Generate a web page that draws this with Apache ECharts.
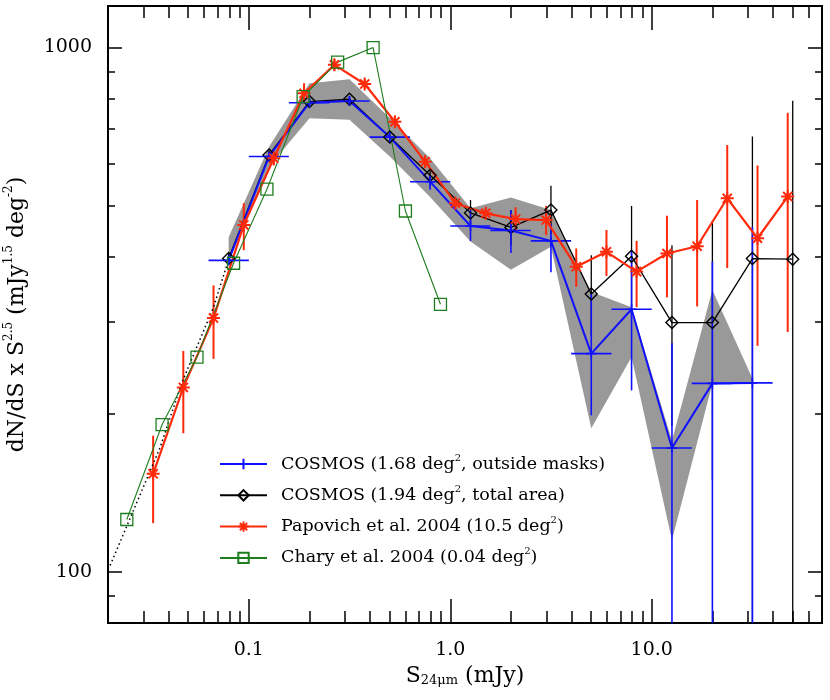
<!DOCTYPE html>
<html>
<head>
<meta charset="utf-8">
<script src="https://cdn.jsdelivr.net/npm/echarts@6/dist/echarts.min.js"></script>
<style>
  html, body { margin: 0; padding: 0; background: #fff; }
  #chart { width: 830px; height: 700px; }
</style>
</head>
<body>
<div id="chart"></div>
<script>
// ---- data ----
// COSMOS 1.68 deg2, outside masks (blue, with bin widths)
const blueX   = [0.0794, 0.126, 0.200, 0.316, 0.501, 0.794, 1.26, 2.00, 3.16, 5.01, 7.94, 12.6, 20.0, 31.6];
const blueY   = [393, 620, 785, 791, 675, 555, 457, 448, 428, 261, 317, 172.5, 229, 229.5];
const blueHi  = [400, 632, 800, 806, 688, 572, 490, 490, 461, 340, 411, 273, 391, 455];
const blueLo  = [386, 608, 770, 776, 662, 536, 428, 406, 373, 199, 222, 40, 40, 40];
const blueXlo = [0.0631, 0.100, 0.158, 0.251, 0.398, 0.631, 1.00, 1.58, 2.51, 3.98, 6.31, 10.0, 15.8, 25.1];
const blueXhi = [0.100, 0.158, 0.251, 0.398, 0.631, 1.00, 1.58, 2.51, 3.98, 6.31, 10.0, 15.8, 25.1, 39.8];

// grey band around the blue counts
const bandHi = [435, 647, 855, 870, 734, 615, 494, 518, 490, 342, 320, 178, 345, 234];
const bandLo = [390, 593, 733, 728, 620, 519, 427, 377, 417, 188, 257, 115, 229, 229];

// COSMOS 1.94 deg2, total area (black)
const blackX  = [0.0794, 0.126, 0.200, 0.316, 0.501, 0.794, 1.26, 2.00, 3.16, 5.01, 7.94, 12.6, 20.0, 31.6, 50.1];
const blackY  = [396, 624, 789, 797, 675, 571, 484, 454, 490, 339, 400, 299, 299, 396, 395];
const blackHi = [405, 636, 800, 808, 688, 585, 512, 490, 545, 402, 499, 420, 467, 677, 792];
const blackLo = [387, 612, 778, 786, 662, 557, 458, 420, 440, 282, 320, 190, 150, 60, 60];

// Papovich et al. 2004 (red)
const redX  = [0.0335, 0.0473, 0.0668, 0.0944, 0.133, 0.188, 0.266, 0.376, 0.531, 0.750, 1.06, 1.50, 2.11, 2.99, 4.22, 5.96, 8.41, 11.9, 16.8, 23.7, 33.5, 47.3];
const redY  = [154, 225, 305, 459, 615, 818, 927, 852, 722, 606, 505, 483, 471, 469, 382, 408, 374, 405, 418, 516, 433, 520];
const redHi = [182, 264, 352, 505, 635, 855, 950, 870, 740, 622, 518, 495, 496, 499, 414, 449, 428, 478, 512, 652, 596, 751];
const redLo = [124, 184, 255, 411, 596, 783, 905, 834, 704, 590, 492, 471, 445, 439, 350, 367, 320, 334, 321, 380, 270, 287];

// Chary et al. 2004 (green)
const greenX = [0.0248, 0.0371, 0.0553, 0.084, 0.123, 0.186, 0.276, 0.414, 0.599, 0.894];
const greenY = [126, 191, 257, 388, 537, 806, 938, 1000, 488, 324];

// dotted extrapolation at the faint end
const dotX = [0.0205, 0.0363, 0.0466, 0.0668, 0.079];
const dotY = [103, 173, 230, 320, 392];

// axis ticks
const xMajor = [0.1, 1, 10];
const xMinor = [0.03, 0.04, 0.05, 0.06, 0.07, 0.08, 0.09, 0.2, 0.3, 0.4, 0.5, 0.6, 0.7, 0.8, 0.9,
                2, 3, 4, 5, 6, 7, 8, 9, 20, 30, 40, 50, 60, 70];
const yMajor = [100, 1000];
const yMinor = [90, 200, 300, 400, 500, 600, 700, 800, 900];

const legendNames = ['blue', 'black', 'red', 'green'];
const legendLabels = {
  blue: 'COSMOS (1.68 deg{sup|2}, outside masks)',
  black: 'COSMOS (1.94 deg{sup|2}, total area)',
  red: 'Papovich et al. 2004 (10.5 deg{sup|2})',
  green: 'Chary et al. 2004 (0.04 deg{sup|2})'
};

const FONT = 'DejaVu Serif';
const BLUE = '#1010ff';
const RED = '#ff2a0a';
const GREEN = '#1e7d1e';

const chart = echarts.init(document.getElementById('chart'));

function pairs(xs, ys) {
  return xs.map((x, i) => [x, ys[i]]);
}

// x axes: bottom/top, major and minor ticks are drawn by separate axes
function xAxis(position, ticks, len, main) {
  return {
    type: 'log', logBase: 10, min: 0.02, max: 70, position: position,
    axisLine: { show: true, onZero: false, lineStyle: { color: '#000', width: 2 } },
    axisTick: { show: true, inside: true, length: len, customValues: ticks,
      lineStyle: { color: '#000', width: 1.5 } },
    axisLabel: main ? {
      show: true, customValues: xMajor, margin: 18,
      fontFamily: FONT, fontSize: 19, color: '#000',
      formatter: v => Number(v).toFixed(1)
    } : { show: false },
    name: main ? 'S{sub|24\u03bcm} (mJy)' : '',
    nameLocation: 'middle', nameGap: 38,
    nameTextStyle: { fontFamily: FONT, fontSize: 22, color: '#000',
      rich: { sub: { fontFamily: FONT, fontSize: 13, verticalAlign: 'bottom', lineHeight: 13 } } },
    splitLine: { show: false }
  };
}

function yAxis(position, ticks, len, main) {
  return {
    type: 'log', logBase: 10, min: 80, max: 1200, position: position,
    axisLine: { show: true, onZero: false, lineStyle: { color: '#000', width: 2 } },
    axisTick: { show: true, inside: true, length: len, customValues: ticks,
      lineStyle: { color: '#000', width: 1.5 } },
    axisLabel: main ? {
      show: true, customValues: yMajor, margin: 16,
      fontFamily: FONT, fontSize: 19, color: '#000',
      formatter: v => String(Math.round(v))
    } : { show: false },
    name: main ? 'dN/dS x S{sup|2.5} (mJy{sup|1.5} deg{sup|-2})' : '',
    nameLocation: 'middle', nameGap: 72, nameRotate: 90,
    nameTextStyle: { fontFamily: FONT, fontSize: 22, color: '#000', lineHeight: 30,
      rich: { sup: { fontFamily: FONT, fontSize: 12, verticalAlign: 'top', lineHeight: 12 } } },
    splitLine: { show: false }
  };
}

// vertical error bars (and horizontal bin bars if given)
function errorBars(xs, ys, lo, hi, color, width, xlo, xhi) {
  return {
    type: 'custom', clip: true, silent: true,
    data: xs.map((x, i) => [x, lo[i], hi[i], ys[i], xlo ? xlo[i] : x, xhi ? xhi[i] : x]),
    encode: { x: 0, y: [1, 2] },
    renderItem(params, api) {
      const x = api.value(0);
      const a = api.coord([x, api.value(1)]);
      const b = api.coord([x, api.value(2)]);
      const children = [{
        type: 'line', shape: { x1: a[0], y1: a[1], x2: b[0], y2: b[1] },
        style: { stroke: color, lineWidth: width }
      }];
      if (xlo) {
        const l = api.coord([api.value(4), api.value(3)]);
        const r = api.coord([api.value(5), api.value(3)]);
        children.push({
          type: 'line', shape: { x1: l[0], y1: l[1], x2: r[0], y2: r[1] },
          style: { stroke: color, lineWidth: width }
        });
      }
      return { type: 'group', children: children };
    }
  };
}

const option = {
  animation: false,
  backgroundColor: '#fff',
  grid: { left: 108, right: 8, top: 6, bottom: 77, containLabel: false, outerBoundsMode: 'none' },
  xAxis: [
    xAxis('bottom', xMajor, 24, true),
    xAxis('bottom', xMinor, 12, false),
    xAxis('top', xMajor, 24, false),
    xAxis('top', xMinor, 12, false)
  ],
  yAxis: [
    yAxis('left', yMajor, 14, true),
    yAxis('left', yMinor, 7, false),
    yAxis('right', yMajor, 14, false),
    yAxis('right', yMinor, 7, false)
  ],
  legend: {
    data: legendNames, orient: 'vertical', left: 214, top: 448,
    itemWidth: 47, itemHeight: 13, itemGap: 9.3, selectedMode: false,
    formatter: name => legendLabels[name],
    textStyle: { fontFamily: FONT, fontSize: 17.5, color: '#000', lineHeight: 22, padding: [0, 0, 0, 9],
      rich: { sup: { fontFamily: FONT, fontSize: 10, verticalAlign: 'top', lineHeight: 10 } } }
  },
  series: [
    {
      // grey band
      type: 'custom', clip: true, silent: true,
      data: blueX.map((x, i) => [x, bandLo[i], bandHi[i]]),
      encode: { x: 0, y: [1, 2] },
      renderItem(params, api) {
        if (params.dataIndex !== 0) return null;
        const pts = [];
        blueX.forEach((x, i) => pts.push(api.coord([x, bandHi[i]])));
        for (let i = blueX.length - 1; i >= 0; i--) pts.push(api.coord([blueX[i], bandLo[i]]));
        return { type: 'polygon', shape: { points: pts }, style: { fill: '#999999' } };
      }
    },
    {
      type: 'line', silent: true, data: pairs(dotX, dotY), showSymbol: false,
      lineStyle: { color: '#000', width: 1.5, type: [1.5, 3] }
    },
    errorBars(blackX, blackY, blackLo, blackHi, '#000', 1.3),
    {
      name: 'black', type: 'line', silent: true, data: pairs(blackX, blackY),
      symbol: 'diamond', symbolSize: 12,
      itemStyle: { color: 'transparent', borderColor: '#000', borderWidth: 1.4 },
      lineStyle: { color: '#000', width: 1.3 }
    },
    errorBars(blueX, blueY, blueLo, blueHi, BLUE, 1.6, blueXlo, blueXhi),
    {
      name: 'blue', type: 'line', silent: true, data: pairs(blueX, blueY),
      symbol: 'path://M5 0V10M0 5H10', symbolSize: 10,
      itemStyle: { color: 'transparent', borderColor: BLUE, borderWidth: 1.6 },
      lineStyle: { color: BLUE, width: 2 }
    },
    errorBars(redX, redY, redLo, redHi, RED, 2),
    {
      name: 'red', type: 'line', silent: true, data: pairs(redX, redY),
      symbol: 'path://M5 0V10M0 5H10M1.5 1.5L8.5 8.5M1.5 8.5L8.5 1.5', symbolSize: 13,
      itemStyle: { color: 'transparent', borderColor: RED, borderWidth: 2 },
      lineStyle: { color: RED, width: 2.2 }
    },
    {
      name: 'green', type: 'line', silent: true, data: pairs(greenX, greenY),
      symbol: 'rect', symbolSize: 12,
      itemStyle: { color: 'transparent', borderColor: GREEN, borderWidth: 1.3 },
      lineStyle: { color: GREEN, width: 1.1 }
    }
  ]
};

chart.setOption(option);
</script>
</body>
</html>
